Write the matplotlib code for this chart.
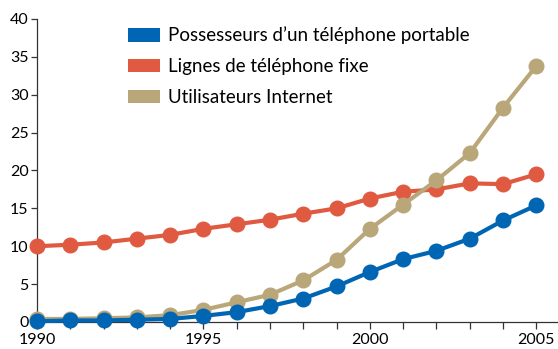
import matplotlib.pyplot as plt
from matplotlib.patches import Patch
from matplotlib.ticker import MultipleLocator

years = list(range(1990, 2006))
mobile = [0.1, 0.2, 0.2, 0.3, 0.4, 0.8, 1.3, 2.1, 3.1, 4.7, 6.6, 8.3, 9.4, 11.0, 13.4, 15.4]
fixed = [10.0, 10.2, 10.5, 11.0, 11.5, 12.3, 12.9, 13.5, 14.3, 15.0, 16.3, 17.2, 17.5, 18.3, 18.2, 19.5]
internet = [0.4, 0.4, 0.5, 0.6, 0.9, 1.6, 2.6, 3.6, 5.5, 8.2, 12.3, 15.5, 18.7, 22.3, 28.3, 33.8]

labels = ["Possesseurs d\u2019un téléphone portable",
          "Lignes de téléphone fixe",
          "Utilisateurs Internet"]
colors = ["#0066b3", "#e05a41", "#b9a679"]

plt.rcParams['font.family'] = ['Lato', 'DejaVu Sans']

fig = plt.figure(figsize=(5.58, 3.49), dpi=100)
ax = fig.add_axes([0.0663, 0.0774, 0.9337, 0.8682])

# draw bottom series last so the blue sits over the tan near zero
for series, color, z in [(fixed, colors[1], 3), (internet, colors[2], 4), (mobile, colors[0], 5)]:
    ax.plot(years, series, color=color, lw=3, marker="o", ms=10.5,
            clip_on=False, zorder=z)

ax.set_xlim(1990, 2005.65)
ax.set_ylim(0, 40)
ax.xaxis.set_major_locator(MultipleLocator(5))
ax.xaxis.set_minor_locator(MultipleLocator(1))
ax.yaxis.set_major_locator(MultipleLocator(5))
ax.spines[["top", "right"]].set_visible(False)
for s in ["left", "bottom"]:
    ax.spines[s].set_color("#333333")
    ax.spines[s].set_linewidth(0.9)
ax.tick_params(axis="both", which="both", direction="out", color="#333333", width=0.9, labelsize=11.5)
ax.tick_params(axis="y", length=4, pad=2)
ax.tick_params(axis="x", which="both", length=5, pad=3)

handles = [Patch(facecolor=c, edgecolor="none") for c in colors]
ax.legend(handles, labels, loc="upper left", bbox_to_anchor=(0.216, 0.946),
          bbox_transform=fig.transFigure, frameon=False, fontsize=13.5,
          borderaxespad=0, handlelength=1.7, handleheight=0.75,
          handletextpad=0.45, labelspacing=0.74)

fig.savefig("out.png", dpi=100)
